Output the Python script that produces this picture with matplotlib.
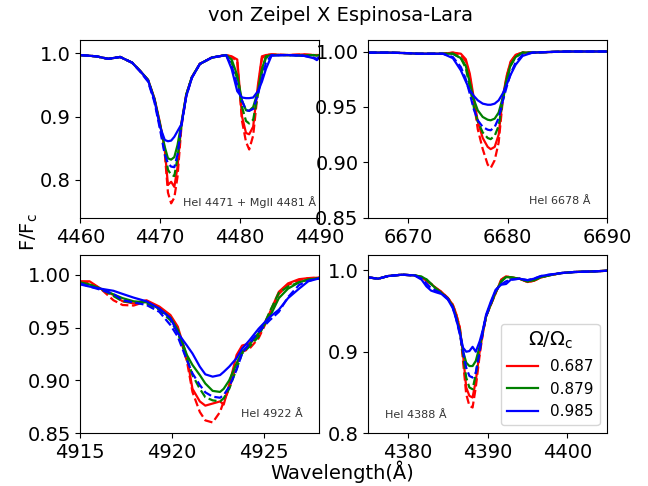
import numpy as np
import matplotlib
matplotlib.use("Agg")
import matplotlib.pyplot as plt

plt.rcParams['font.size'] = 14

omegas = ['0.687', '0.879', '0.985']
colors = ['red', 'green', 'blue']

# HeI 4471 + MgII 4481
wl_4471 = [4460, 4462, 4463.5, 4465, 4466.5, 4467.5, 4468.5, 4469.3, 4470.0, 4470.6,
           4471.0, 4471.4, 4471.8, 4472.2, 4472.7, 4473.3, 4474.0, 4475.0, 4476.5, 4478.3,
           4479.0, 4479.7, 4480.3, 4480.8, 4481.2, 4481.7, 4482.3, 4482.8, 4483.3, 4484.0,
           4486, 4488, 4489.3, 4489.7, 4490]
f4471_687 = [0.997, 0.995, 0.991, 0.994, 0.985, 0.972, 0.958, 0.929, 0.890, 0.848,
             0.792, 0.797, 0.789, 0.820, 0.890, 0.935, 0.962, 0.983, 0.993, 0.997,
             0.995, 0.990, 0.900, 0.874, 0.872, 0.884, 0.950, 0.995, 0.997, 0.998,
             0.997, 0.998, 0.997, 0.997, 0.997]
f4471_687_d = [0.997, 0.995, 0.991, 0.994, 0.985, 0.972, 0.957, 0.927, 0.886, 0.842,
               0.780, 0.763, 0.772, 0.805, 0.885, 0.933, 0.962, 0.983, 0.993, 0.997,
               0.994, 0.987, 0.893, 0.860, 0.848, 0.870, 0.942, 0.992, 0.997, 0.998,
               0.997, 0.998, 0.997, 0.997, 0.997]
f4471_879 = [0.997, 0.995, 0.991, 0.994, 0.985, 0.972, 0.958, 0.928, 0.888, 0.852,
             0.834, 0.832, 0.836, 0.855, 0.890, 0.935, 0.962, 0.983, 0.993, 0.997,
             0.990, 0.965, 0.925, 0.910, 0.909, 0.915, 0.940, 0.975, 0.995, 0.997,
             0.997, 0.996, 0.997, 0.996, 0.997]
f4471_879_d = [0.997, 0.995, 0.991, 0.994, 0.985, 0.972, 0.957, 0.927, 0.886, 0.846,
               0.816, 0.808, 0.806, 0.835, 0.887, 0.934, 0.962, 0.983, 0.993, 0.997,
               0.985, 0.960, 0.915, 0.893, 0.889, 0.895, 0.935, 0.970, 0.993, 0.997,
               0.997, 0.996, 0.997, 0.996, 0.997]
f4471_985 = [0.997, 0.995, 0.991, 0.994, 0.985, 0.972, 0.957, 0.926, 0.884, 0.863,
             0.861, 0.862, 0.868, 0.877, 0.888, 0.932, 0.961, 0.983, 0.993, 0.997,
             0.975, 0.940, 0.930, 0.929, 0.929, 0.930, 0.940, 0.955, 0.975, 0.996,
             0.997, 0.996, 0.992, 0.989, 0.993]
f4471_985_d = [0.997, 0.995, 0.991, 0.994, 0.985, 0.971, 0.955, 0.923, 0.880, 0.840,
               0.826, 0.821, 0.820, 0.840, 0.886, 0.933, 0.961, 0.983, 0.993, 0.997,
               0.980, 0.950, 0.925, 0.910, 0.909, 0.912, 0.935, 0.960, 0.985, 0.997,
               0.997, 0.996, 0.993, 0.991, 0.994]

# HeI 6678
wl_6678 = [6666, 6668, 6670, 6671, 6672, 6673.5, 6674.5, 6675.3, 6675.8, 6676.2,
           6676.6, 6677.0, 6677.5, 6678.0, 6678.3, 6678.7, 6679.1, 6679.5, 6679.9, 6680.3,
           6680.8, 6681.5, 6682.5, 6684, 6686, 6688, 6690]
f6678_687 = [0.999, 0.999, 0.9985, 0.998, 0.998, 0.998, 0.999, 0.998, 0.993, 0.980,
             0.958, 0.937, 0.922, 0.914, 0.912, 0.914, 0.925, 0.958, 0.978, 0.991,
             0.997, 0.999, 0.999, 0.9995, 1.0, 1.0, 1.0]
f6678_687_d = [0.999, 0.999, 0.9985, 0.998, 0.998, 0.998, 0.999, 0.997, 0.991, 0.977,
               0.955, 0.930, 0.912, 0.898, 0.895, 0.902, 0.918, 0.955, 0.977, 0.990,
               0.997, 0.999, 0.999, 0.9995, 1.0, 1.0, 1.0]
f6678_879 = [0.999, 0.999, 0.9985, 0.998, 0.998, 0.998, 0.998, 0.994, 0.987, 0.972,
             0.957, 0.947, 0.941, 0.9385, 0.938, 0.9395, 0.945, 0.958, 0.975, 0.988,
             0.995, 0.999, 0.999, 0.9995, 1.0, 1.0, 1.0]
f6678_879_d = [0.999, 0.999, 0.9985, 0.998, 0.998, 0.998, 0.998, 0.994, 0.985, 0.968,
               0.950, 0.937, 0.927, 0.922, 0.921, 0.924, 0.933, 0.955, 0.973, 0.987,
               0.995, 0.999, 0.999, 0.9995, 1.0, 1.0, 1.0]
f6678_985 = [0.999, 0.999, 0.9985, 0.998, 0.998, 0.998, 0.994, 0.983, 0.973, 0.965,
             0.960, 0.956, 0.953, 0.952, 0.952, 0.953, 0.956, 0.962, 0.970, 0.979,
             0.988, 0.996, 0.999, 0.9995, 1.0, 1.0, 1.0]
f6678_985_d = [0.999, 0.999, 0.9985, 0.998, 0.998, 0.998, 0.995, 0.986, 0.975, 0.962,
               0.948, 0.938, 0.932, 0.9295, 0.929, 0.932, 0.940, 0.955, 0.968, 0.980,
               0.990, 0.997, 0.999, 0.9995, 1.0, 1.0, 1.0]

# HeI 4922
wl_4922 = [4915.0, 4915.5, 4916.1, 4916.8, 4917.3, 4917.9, 4918.6, 4919.3, 4919.9, 4920.3,
           4920.8, 4921.1, 4921.5, 4921.8, 4922.2, 4922.6, 4922.8, 4923.1, 4923.5, 4923.8,
           4924.2, 4924.7, 4925.3, 4925.8, 4926.3, 4926.9, 4927.4, 4928.0]
f4922_687 = [0.994, 0.994, 0.987, 0.981, 0.975, 0.973, 0.976, 0.970, 0.962, 0.951,
             0.922, 0.892, 0.880, 0.876, 0.878, 0.880, 0.877, 0.896, 0.924, 0.933,
             0.935, 0.943, 0.964, 0.984, 0.992, 0.996, 0.997, 0.9975]
f4922_687_d = [0.9937, 0.993, 0.987, 0.976, 0.9715, 0.971, 0.975, 0.968, 0.960, 0.948,
               0.918, 0.889, 0.870, 0.862, 0.860, 0.870, 0.880, 0.892, 0.915, 0.927,
               0.930, 0.940, 0.962, 0.982, 0.9905, 0.995, 0.997, 0.9975]
f4922_879 = [0.993, 0.991, 0.987, 0.9816, 0.978, 0.975, 0.974, 0.968, 0.9595, 0.948,
             0.924, 0.9146, 0.905, 0.897, 0.890, 0.889, 0.892, 0.900, 0.916, 0.927,
             0.934, 0.945, 0.960, 0.978, 0.987, 0.993, 0.9956, 0.997]
f4922_879_d = [0.992, 0.9905, 0.987, 0.980, 0.975, 0.974, 0.973, 0.967, 0.957, 0.945,
               0.921, 0.905, 0.892, 0.884, 0.881, 0.880, 0.883, 0.892, 0.911, 0.9255,
               0.932, 0.9415, 0.965, 0.983, 0.989, 0.993, 0.9956, 0.9968]
f4922_985 = [0.991, 0.989, 0.987, 0.985, 0.982, 0.9785, 0.975, 0.968, 0.959, 0.945,
             0.933, 0.9255, 0.913, 0.9057, 0.9035, 0.905, 0.908, 0.913, 0.921, 0.930,
             0.938, 0.949, 0.960, 0.967, 0.978, 0.987, 0.994, 0.9968]
f4922_985_d = [0.992, 0.989, 0.986, 0.982, 0.976, 0.974, 0.9715, 0.965, 0.9525, 0.9415,
               0.919, 0.9066, 0.8956, 0.8886, 0.8845, 0.8835, 0.886, 0.894, 0.910, 0.9255,
               0.935, 0.946, 0.957, 0.965, 0.979, 0.9905, 0.9945, 0.9968]

# HeI 4388
wl_4388 = [4375.0, 4376.25, 4377.5, 4379.2, 4380.8, 4381.7, 4382.3, 4382.9, 4383.5, 4384.2,
           4385.0, 4385.6, 4386.0, 4386.5, 4386.9, 4387.3, 4387.7, 4388.1, 4388.5, 4389.0,
           4389.4, 4389.8, 4390.4, 4391.0, 4391.7, 4392.3, 4392.9, 4394.0, 4395.0, 4395.8,
           4396.7, 4397.7, 4399.2, 4400.8, 4403.3, 4405.0]
f4388_687 = [0.9914, 0.9898, 0.9931, 0.9947, 0.9939, 0.9914, 0.9873, 0.9833, 0.9784, 0.9735,
             0.9661, 0.958, 0.9478, 0.9294, 0.8967, 0.856, 0.8457, 0.8437, 0.8641, 0.9008,
             0.9233, 0.9437, 0.958, 0.9722, 0.9886, 0.9927, 0.9914, 0.9898, 0.9857, 0.9873,
             0.9914, 0.9939, 0.9967, 0.998, 0.9988, 0.9996]
f4388_687_d = [0.9914, 0.9898, 0.9931, 0.9947, 0.9939, 0.9914, 0.9873, 0.9833, 0.9784, 0.9735,
               0.9661, 0.958, 0.9478, 0.9294, 0.8886, 0.8478, 0.8335, 0.8314, 0.856, 0.8967,
               0.9233, 0.9437, 0.958, 0.9722, 0.9886, 0.9927, 0.9914, 0.9898, 0.9857, 0.9873,
               0.9914, 0.9939, 0.9967, 0.998, 0.9988, 0.9996]
f4388_879 = [0.9914, 0.9898, 0.9931, 0.9947, 0.9939, 0.9922, 0.989, 0.9833, 0.9776, 0.9722,
             0.9653, 0.956, 0.9437, 0.9253, 0.9008, 0.8865, 0.8824, 0.8824, 0.8886, 0.907,
             0.9253, 0.9437, 0.9588, 0.9735, 0.9865, 0.9918, 0.9914, 0.9898, 0.9865, 0.988,
             0.9918, 0.9939, 0.9967, 0.998, 0.9988, 0.9996]
f4388_879_d = [0.9914, 0.9898, 0.9931, 0.9947, 0.9939, 0.9922, 0.989, 0.9833, 0.9776, 0.9722,
               0.9653, 0.956, 0.9437, 0.9253, 0.8967, 0.8682, 0.856, 0.8539, 0.8722, 0.903,
               0.9253, 0.9437, 0.9588, 0.9735, 0.9865, 0.9918, 0.9914, 0.9898, 0.9865, 0.988,
               0.9918, 0.9939, 0.9967, 0.998, 0.9988, 0.9996]
f4388_985 = [0.9914, 0.9898, 0.9931, 0.9947, 0.9939, 0.9886, 0.9804, 0.9751, 0.9731, 0.971,
             0.9641, 0.9539, 0.9416, 0.9233, 0.9049, 0.900, 0.9008, 0.906, 0.900, 0.913,
             0.9273, 0.9457, 0.962, 0.9763, 0.9824, 0.9833, 0.9886, 0.9898, 0.988, 0.9898,
             0.9931, 0.9947, 0.9967, 0.998, 0.9988, 0.9996]
f4388_985_d = [0.9914, 0.9898, 0.9931, 0.9947, 0.9939, 0.990, 0.984, 0.978, 0.975, 0.972,
               0.965, 0.955, 0.942, 0.921, 0.9008, 0.8804, 0.8702, 0.8682, 0.8743, 0.9008,
               0.9253, 0.9437, 0.960, 0.975, 0.983, 0.9865, 0.9886, 0.9898, 0.988, 0.9898,
               0.9931, 0.9947, 0.9967, 0.998, 0.9988, 0.9996]

panels = [
    (wl_4471, [f4471_687, f4471_879, f4471_985], [f4471_687_d, f4471_879_d, f4471_985_d],
     (4460, 4490), (0.74, 1.021), [4460, 4470, 4480, 4490], [0.8, 0.9, 1.0], '%.1f',
     'HeI 4471 + MgII 4481 Å', (0.985, 0.09), 'right'),
    (wl_6678, [f6678_687, f6678_879, f6678_985], [f6678_687_d, f6678_879_d, f6678_985_d],
     (6666, 6690), (0.85, 1.0105), [6670, 6680, 6690], [0.85, 0.90, 0.95, 1.00], '%.2f',
     'HeI 6678 Å', (0.93, 0.095), 'right'),
    (wl_4922, [f4922_687, f4922_879, f4922_985], [f4922_687_d, f4922_879_d, f4922_985_d],
     (4915, 4928), (0.85, 1.019), [4915, 4920, 4925], [0.85, 0.90, 0.95, 1.00], '%.2f',
     'HeI 4922 Å', (0.93, 0.105), 'right'),
    (wl_4388, [f4388_687, f4388_879, f4388_985], [f4388_687_d, f4388_879_d, f4388_985_d],
     (4375, 4405), (0.8, 1.019), [4380, 4390, 4400], [0.8, 0.9, 1.0], '%.1f',
     'HeI 4388 Å', (0.07, 0.10), 'left'),
]

fig, axes = plt.subplots(2, 2, figsize=(6.48, 4.86), dpi=100)
fig.subplots_adjust(left=0.124, right=0.937, top=0.918, bottom=0.109, wspace=0.205, hspace=0.208)

for ax, (wl, solid, dashed, xl, yl, xt, yt, fmt, name, pos, ha) in zip(axes.flat, panels):
    for k in range(3):
        ax.plot(wl, solid[k], color=colors[k], lw=1.6, label=omegas[k])
        ax.plot(wl, dashed[k], color=colors[k], lw=1.6, ls='--')
    ax.set_xlim(*xl)
    ax.set_ylim(*yl)
    ax.set_xticks(xt)
    ax.set_yticks(yt)
    ax.set_yticklabels([fmt % v for v in yt])
    ax.text(pos[0], pos[1], name, transform=ax.transAxes, fontsize=8,
            ha=ha, va='center', color='#333333')

leg = axes[1, 1].legend(loc='lower right', fontsize=11, title=r'$\Omega/\Omega_\mathrm{c}$',
                        title_fontsize=14)

fig.text(0.525, 0.969, 'von Zeipel X Espinosa-Lara', ha='center', va='center', fontsize=14)
fig.text(0.045, 0.523, r'F/F$_\mathrm{c}$', ha='center', va='center', rotation=90, fontsize=14)
fig.text(0.528, 0.03, 'Wavelength(Å)', ha='center', va='center', fontsize=14)

fig.savefig('out.png', dpi=100)
